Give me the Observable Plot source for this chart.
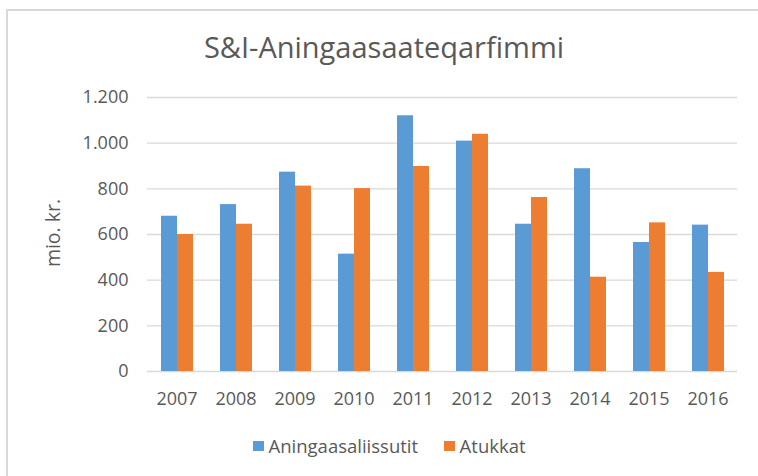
<!DOCTYPE html>
<html><head><meta charset="utf-8">
<script src="https://cdn.jsdelivr.net/npm/d3@7"></script>
<script src="https://cdn.jsdelivr.net/npm/@observablehq/plot@0.6"></script>
<style>
html,body{margin:0;padding:0;overflow:hidden;background:#fff;scrollbar-width:none;}
::-webkit-scrollbar{display:none;width:0;height:0;}
body{font-family:"Open Sans",sans-serif;color:#595959;}
#wrap{position:relative;width:758px;height:476px;overflow:hidden;background:#fff;}
#hline{position:absolute;left:6px;top:9px;width:760px;height:2px;background:#d9d9d9;}
#vline{position:absolute;left:6px;top:9px;width:2px;height:480px;background:#d9d9d9;}
#title{position:absolute;left:0;top:30px;width:768px;text-align:center;font-size:29px;line-height:1.2;white-space:nowrap;}
#chart{position:absolute;left:0;top:0;}
#ylabel{position:absolute;left:53px;top:233px;transform:translate(-50%,-50%) rotate(-90deg);font-size:19.5px;line-height:1;white-space:nowrap;}
#legend{position:absolute;top:435px;left:253px;font-size:18.5px;line-height:1.2;display:flex;align-items:center;white-space:nowrap;}
.sw{display:inline-block;width:10.5px;height:10.5px;margin-right:5px;}
.item{display:flex;align-items:center;margin-right:26px;}
</style></head><body>
<div id="wrap">
<div id="hline"></div>
<div id="vline"></div>
<div id="title">S&amp;I-Aningaasaateqarfimmi</div>
<div id="chart"></div>
<div id="ylabel"></div>
<div id="legend"></div>
</div>
<script>
const years = ["2007","2008","2009","2010","2011","2012","2013","2014","2015","2016"];
const seriesNames = ["Aningaasaliissutit","Atukkat"];
const aningaasaliissutit = [680, 731, 873, 514, 1120, 1009, 645, 888, 565, 641];
const atukkat = [600, 645, 812, 801, 898, 1039, 762, 413, 651, 434];
const colors = ["#5B9BD5", "#ED7D31"];
const yTicks = [0, 200, 400, 600, 800, 1000, 1200];
const yLabel = "mio. kr.";
const fmt = d => d3.format(",")(d).replace(/,/g, ".");

const data = [];
years.forEach((y, i) => {
  data.push({year: y, series: seriesNames[0], value: aningaasaliissutit[i]});
  data.push({year: y, series: seriesNames[1], value: atukkat[i]});
});

const chart = Plot.plot({
  width: 758,
  height: 420,
  marginLeft: 143,
  marginRight: 18,
  marginTop: 97,
  marginBottom: 49,
  style: {fontFamily: "'Open Sans', sans-serif", fontSize: "18px", color: "#595959", background: "transparent"},
  fx: {domain: years, paddingInner: 0, paddingOuter: 0, label: null, axis: "bottom", tickSize: 0, tickPadding: 21},
  x: {domain: seriesNames, paddingInner: 0, paddingOuter: 0.81, axis: null},
  y: {domain: [0, 1200], ticks: yTicks, tickFormat: fmt, tickSize: 0, tickPadding: 19, label: null},
  color: {domain: seriesNames, range: colors},
  marks: [
    Plot.ruleY(yTicks, {stroke: "#d9d9d9", strokeWidth: 1.3}),
    Plot.barY(data, {fx: "year", x: "series", y: "value", fill: "series", inset: 0})
  ]
});
document.getElementById("chart").appendChild(chart);
document.getElementById("ylabel").textContent = yLabel;

const legend = document.getElementById("legend");
seriesNames.forEach((s, i) => {
  const it = document.createElement("div");
  it.className = "item";
  const sw = document.createElement("span");
  sw.className = "sw";
  sw.style.background = colors[i];
  it.appendChild(sw);
  it.appendChild(document.createTextNode(s));
  legend.appendChild(it);
});
</script>
</body></html>
